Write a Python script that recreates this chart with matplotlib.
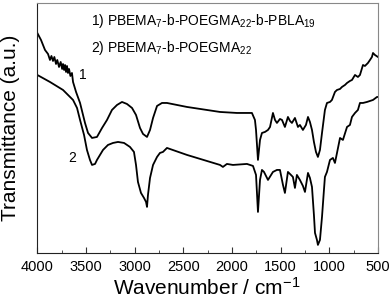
import matplotlib
matplotlib.use("Agg")
import matplotlib.pyplot as plt
from matplotlib.ticker import MultipleLocator

plt.rcParams['font.family'] = ['Liberation Sans', 'DejaVu Sans']
plt.rcParams['mathtext.fontset'] = 'custom'
plt.rcParams['mathtext.rm'] = 'Liberation Sans'
plt.rcParams['mathtext.it'] = 'Liberation Sans'

# Curve 1: PBEMA7-b-POEGMA22-b-PBLA19
wn1 = [4000, 3962, 3921, 3890, 3870, 3855, 3839, 3825, 3808, 3795, 3777, 3760, 3745,
       3736, 3725, 3715, 3705, 3695, 3685, 3674, 3660, 3644, 3633,
       3602, 3561, 3510, 3479, 3438, 3387, 3335, 3284, 3233, 3181, 3130, 3079, 3027,
       2986, 2945, 2914, 2873, 2842, 2811, 2770, 2719, 2668, 2462, 2123, 1949, 1846,
       1795, 1764, 1753, 1733, 1712, 1692, 1661, 1630, 1609, 1579, 1558, 1538, 1507,
       1486, 1456, 1425, 1404, 1384, 1353, 1322, 1302, 1271, 1240, 1219, 1199, 1178,
       1158, 1137, 1117, 1096, 1075, 1045, 1024, 993, 973, 942, 921, 890, 870, 839,
       818, 788, 767, 736, 706, 685, 654, 634, 603, 582, 562, 551, 531, 500]
t1 = [220, 213, 203, 199, 193, 197, 192, 196, 189, 193, 186, 191, 184,
      189, 183, 188, 181, 187, 180, 184, 177, 180, 171,
      161, 150, 130, 120, 115, 116, 125, 133, 143, 148, 151, 149, 145,
      138, 125, 119, 116, 123, 135, 147, 150, 150, 146, 141, 140, 140,
      140, 133, 123, 93, 113, 120, 121, 123, 126, 140, 133, 130, 134,
      133, 126, 136, 132, 130, 135, 126, 128, 123, 128, 136, 131, 123,
      111, 101, 96, 103, 120, 143, 150, 151, 153, 161, 163, 164, 166, 168,
      170, 172, 173, 178, 176, 178, 188, 187, 190, 193, 196, 200, 198, 196]

# Curve 2: PBEMA7-b-POEGMA22
wn2 = [4000, 3870, 3736, 3633, 3592, 3561, 3520, 3490, 3459, 3438, 3407, 3387, 3325,
       3274, 3222, 3171, 3109, 3048, 3007, 2986, 2966, 2935, 2904, 2883, 2873, 2863,
       2842, 2811, 2770, 2740, 2709, 2668, 2462, 2123, 2093, 2052, 1990, 1846, 1784,
       1753, 1733, 1712, 1692, 1671, 1630, 1579, 1538, 1507, 1476, 1456, 1425, 1394,
       1374, 1353, 1333, 1302, 1271, 1250, 1219, 1199, 1178, 1158, 1147, 1127, 1117,
       1096, 1075, 1055, 1045, 1024, 993, 963, 942, 921, 890, 860, 818, 788, 767, 736,
       706, 685, 654, 613, 582, 551, 510, 500]
t2 = [178, 171, 163, 153, 145, 133, 118, 103, 93, 88, 89, 93, 103,
      108, 110, 111, 110, 106, 101, 88, 71, 60, 55, 51, 46, 58,
      75, 88, 96, 100, 101, 105, 98, 88, 86, 89, 88, 89, 87,
      78, 41, 73, 83, 81, 73, 81, 83, 83, 68, 60, 81, 78,
      76, 65, 78, 73, 67, 61, 80, 75, 66, 38, 20, 13, 8,
      13, 36, 63, 76, 81, 93, 95, 90, 100, 115, 113, 126, 128, 136, 140,
      143, 150, 150, 151, 152, 153, 156, 156]

fig = plt.figure(figsize=(3.92, 3.0), dpi=100)
ax = fig.add_axes([0.0952, 0.157, 0.869, 0.833])

ax.plot(wn1, t1, color='black', lw=1.3)
ax.plot(wn2, t2, color='black', lw=1.3)

ax.set_xlim(4000, 500)
ax.set_ylim(0, 250)
ax.set_yticks([])
ax.xaxis.set_major_locator(MultipleLocator(500))
ax.xaxis.set_minor_locator(MultipleLocator(250))
ax.tick_params(axis='x', which='both', direction='in', labelsize=10.5, pad=5, color='#333333')
ax.tick_params(axis='x', which='major', length=4)
ax.tick_params(axis='x', which='minor', length=2.5)

for s in ['top', 'right']:
    ax.spines[s].set_color('#888888')
for s in ['left', 'bottom']:
    ax.spines[s].set_color('#222222')

ax.set_xlabel('Wavenumber / cm$^{-1}$', fontsize=15)
ax.set_ylabel('Transmittance (a.u.)', fontsize=15)
ax.xaxis.set_label_coords(0.498, -0.095)
ax.yaxis.set_label_coords(-0.05, 0.5)

ax.text(0.158, 0.928, '1) PBEMA$_7$-b-POEGMA$_{22}$-b-PBLA$_{19}$', transform=ax.transAxes,
        fontsize=10, va='center', ha='left')
ax.text(0.158, 0.82, '2) PBEMA$_7$-b-POEGMA$_{22}$', transform=ax.transAxes,
        fontsize=10, va='center', ha='left')

ax.text(3530, 178, '1', fontsize=10, ha='center', va='center')
ax.text(3640, 95, '2', fontsize=10, ha='center', va='center')

fig.savefig('out.png', dpi=100)
